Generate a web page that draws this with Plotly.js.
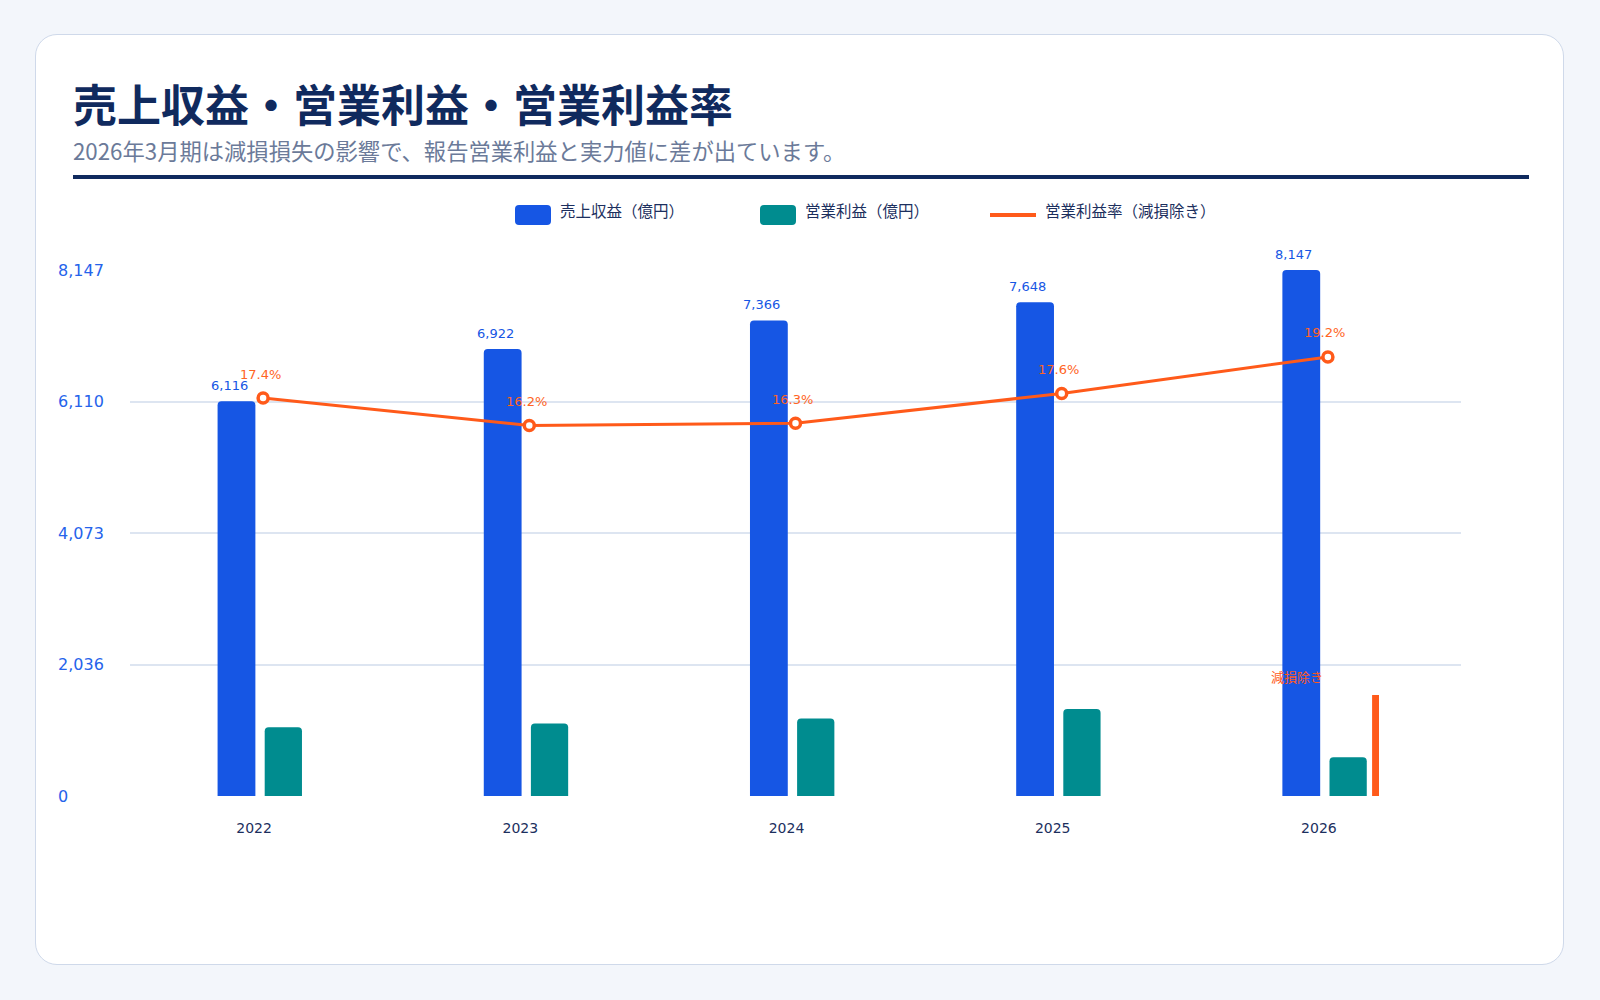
<!DOCTYPE html>
<html lang="ja">
<head>
<meta charset="utf-8">
<script src="https://cdn.plot.ly/plotly-3.0.1.min.js"></script>
<style>
  body { margin: 0; background: #f3f6fb; font-family: "Noto Sans CJK JP", "Noto Sans", sans-serif; }
  .card { position: absolute; left: 35px; top: 34px; width: 1527px; height: 929px;
          background: #fff; border: 1px solid #cfd9ea; border-radius: 22px; }
  .title { position: absolute; left: 73px; top: 77px; font-size: 44px; font-weight: 700;
           color: #102a5e; line-height: 52px; white-space: nowrap; }
  .subtitle { position: absolute; left: 73px; top: 136px; font-size: 22.3px; color: #6b7a99;
              line-height: 28px; white-space: nowrap; }
  .rule { position: absolute; left: 73px; top: 175px; width: 1456px; height: 4px; background: #102a5e; }
  .legend-item { position: absolute; top: 205px; height: 20px; display: flex; align-items: flex-start;
                 font-size: 15.5px; color: #1c2f5e; white-space: nowrap; }
  .legend-item .label { line-height: 20px; position: relative; top: -5px; }
  .swatch { width: 36px; height: 20px; border-radius: 4px; margin-right: 9px; }
  .swatch-line { width: 46px; height: 4px; margin-top: 8px; margin-right: 9px; }
  #graph { position: absolute; left: 36px; top: 185px; width: 1527px; height: 775px; }
</style>
</head>
<body>
<div class="card"></div>
<div class="title">売上収益・営業利益・営業利益率</div>
<div class="subtitle">2026年3月期は減損損失の影響で、報告営業利益と実力値に差が出ています。</div>
<div class="rule"></div>
<div class="legend-item" style="left:515px"><span class="swatch" style="background:#1656e4"></span><span class="label">売上収益（億円）</span></div>
<div class="legend-item" style="left:760px"><span class="swatch" style="background:#008c8f"></span><span class="label">営業利益（億円）</span></div>
<div class="legend-item" style="left:990px"><span class="swatch-line" style="background:#ff5a1a"></span><span class="label">営業利益率（減損除き）</span></div>
<div id="graph"></div>
<script>
// ---- data ----
var years = ['2022', '2023', '2024', '2025', '2026'];
var revenue = [6116, 6922, 7366, 7648, 8147];          // 売上収益（億円）
var opProfit = [1064, 1121, 1201, 1346, 600];          // 営業利益（億円）
var opMargin = [17.4, 16.2, 16.3, 17.6, 19.2];         // 営業利益率（減損除き, %）
var adjYears = ['2026'];
var adjOpProfit = [1564];                              // 減損除き営業利益
var adjLabel = '減損除き';
var yTickVals = [0, 2036.75, 4073.5, 6110.25, 8147];
var yTickText = ['0', '2,036', '4,073', '6,110', '8,147'];

var BLUE = '#1656e4', TEAL = '#008c8f', ORANGE = '#ff5a1a';
var FONT = 'DejaVu Sans, "Noto Sans CJK JP", sans-serif';

var revenueTrace = {
    type: 'bar', x: years, y: revenue, name: '売上収益（億円）',
    offset: -0.171, width: 0.142,
    marker: { color: BLUE, cornerradius: 4 },
    hoverinfo: 'skip'
};

var profitTrace = {
    type: 'bar', x: years, y: opProfit, name: '営業利益（億円）',
    offset: 0.006, width: 0.14,
    marker: { color: TEAL, cornerradius: 4 },
    hoverinfo: 'skip'
};

var adjTrace = {
    type: 'bar', x: adjYears, y: adjOpProfit, name: adjLabel,
    offset: 0.166, width: 0.026,
    marker: { color: ORANGE },
    hoverinfo: 'skip'
};

var marginTrace = {
    type: 'scatter', mode: 'lines+markers', x: years, y: opMargin, yaxis: 'y2',
    name: '営業利益率（減損除き）',
    line: { color: ORANGE, width: 3 },
    marker: { size: 10, color: '#fff', line: { color: ORANGE, width: 3.5 } },
    hoverinfo: 'skip'
};

// labels drawn through the axes (category index used for x, since the
// year names look like numbers)
var annotations = [];
yTickVals.forEach(function(v, i) {
    annotations.push({
        xref: 'paper', x: 0, xanchor: 'left', xshift: -74,
        yref: 'y', y: v, yanchor: 'middle',
        text: yTickText[i], showarrow: false,
        font: { size: 16, color: '#2563eb' }
    });
});
years.forEach(function(yr, i) {
    annotations.push({
        xref: 'x', x: i, yref: 'y', y: revenue[i],
        xanchor: 'center', yanchor: 'middle', xshift: -34, yshift: 16,
        text: revenue[i].toLocaleString('en-US'), showarrow: false,
        font: { size: 13, color: BLUE }
    });
    annotations.push({
        xref: 'x', x: i, yref: 'y2', y: opMargin[i],
        xanchor: 'center', yanchor: 'middle', xshift: -3, yshift: 24,
        text: opMargin[i].toFixed(1) + '%', showarrow: false,
        font: { size: 13, color: '#ff6424' }
    });
});
adjYears.forEach(function(yr, i) {
    annotations.push({
        xref: 'x', x: years.indexOf(yr), yref: 'y', y: adjOpProfit[i],
        xanchor: 'center', yanchor: 'middle', xshift: -31, yshift: 18,
        text: adjLabel, showarrow: false,
        font: { size: 13, color: ORANGE }
    });
});

var layout = {
    showlegend: false,
    barmode: 'overlay',
    paper_bgcolor: 'rgba(0,0,0,0)',
    plot_bgcolor: 'rgba(0,0,0,0)',
    font: { family: FONT, color: '#1c2f5e' },
    margin: { l: 94, r: 102, t: 85, b: 164 },
    xaxis: {
        type: 'category', range: [-0.5, 4.5],
        showgrid: false, zeroline: false, showline: false, ticks: '',
        tickfont: { size: 14, color: '#1c2f5e' },
        ticklabelshift: -9, ticklabelstandoff: 22
    },
    yaxis: {
        range: [0, 8147], tickmode: 'array', tickvals: yTickVals,
        showticklabels: false, zeroline: false, showline: false,
        gridcolor: '#dde5f1', gridwidth: 2
    },
    yaxis2: {
        overlaying: 'y', range: [0, 23], visible: false
    },
    annotations: annotations
};

Plotly.newPlot('graph', [revenueTrace, profitTrace, adjTrace, marginTrace], layout,
    { staticPlot: true, displayModeBar: false });
</script>
</body>
</html>
